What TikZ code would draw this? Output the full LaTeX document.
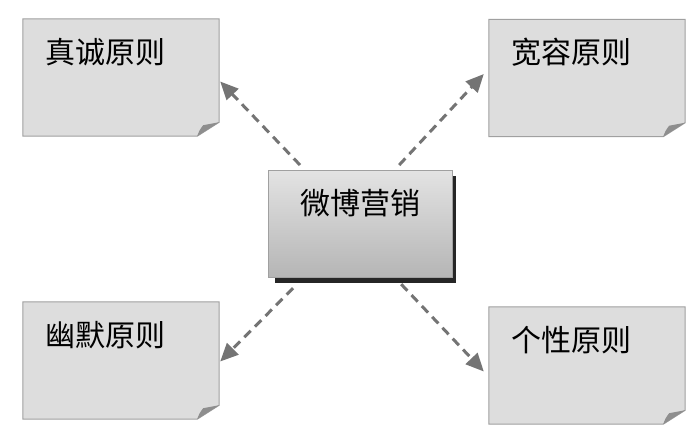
\documentclass[tikz,border=0pt]{standalone}
\usepackage{fontspec}
\newfontfamily\cjk{Noto Sans CJK SC}
\usetikzlibrary{arrows.meta}
\definecolor{notefill}{HTML}{DDDDDD}
\definecolor{noteline}{HTML}{A0A0A0}
\definecolor{arrowgray}{HTML}{747474}
\definecolor{foldgray}{HTML}{8E8E8E}
\tikzset{
  notebox/.style={rectangle, minimum width=196pt, minimum height=117pt, inner sep=0pt, draw=none},
  notetext/.style={anchor=north west, inner sep=0pt, font=\cjk\fontsize{30}{30}\selectfont, text=black},
  centerbox/.style={rectangle, minimum width=184pt, minimum height=107pt, inner sep=0pt,
     draw=noteline, line width=1.2pt, top color=gray!22, bottom color=gray!58,
     font=\cjk\fontsize{30}{30}\selectfont, text depth=0pt},
  dasharrow/.style={draw=arrowgray, line width=3pt, dash pattern=on 9pt off 6pt,
     -{Triangle[length=18pt,width=16pt,fill=arrowgray,color=arrowgray]}},
}
\newcommand{\notedraw}[1]{%
  \draw[draw=noteline, fill=notefill, line width=1pt]
    (#1.north west) -- (#1.north east) -- ([yshift=14pt]#1.south east)
    -- ([xshift=-22pt]#1.south east) -- (#1.south west) -- cycle;
  \fill[foldgray] ([xshift=-22pt]#1.south east) to[bend left=10] ([xshift=-16pt,yshift=11pt]#1.south east)
    -- ([yshift=14pt]#1.south east) -- cycle;
}
\begin{document}
\begin{tikzpicture}[x=1pt,y=-1pt]
\useasboundingbox[fill=white] (0,0) rectangle (692,441);
\node[notebox] (a) at (121,77.5) {};
\node[notebox] (b) at (587,78) {};
\node[notebox] (d) at (121,360.5) {};
\node[notebox] (e) at (587,365.5) {};
\notedraw{a}\notedraw{b}\notedraw{d}\notedraw{e}
\node[notetext] (at) at ([xshift=22pt,yshift=-19pt]a.north west) {真诚原则};
\node[notetext] (bt) at ([xshift=22pt,yshift=-19pt]b.north west) {宽容原则};
\node[notetext] (dt) at ([xshift=22pt,yshift=-19pt]d.north west) {幽默原则};
\node[notetext] (et) at ([xshift=22pt,yshift=-19pt]e.north west) {个性原则};
% shadow of center box
\fill[black!85] (275,176) rectangle (456,283);
\node[centerbox, anchor=north west] (c) at (268,170) {};
\node[anchor=north, inner sep=0pt, font=\cjk\fontsize{30}{30}\selectfont] (ct) at ([yshift=-19pt]c.north) {微博营销};
% connectors
\draw[dasharrow] ([xshift=32pt,yshift=5pt]c.north west) -- ([xshift=1pt,yshift=-4pt]a.east);
\draw[dasharrow] ([xshift=-54pt,yshift=5pt]c.north east) -- ([xshift=-5pt,yshift=4pt]b.west);
\draw[dasharrow] ([xshift=25pt,yshift=-10pt]c.south west) -- ([xshift=1pt,yshift=-1pt]d.east);
\draw[dasharrow] ([xshift=-52pt,yshift=-6pt]c.south east) -- ([xshift=-5pt,yshift=-6pt]e.west);
\end{tikzpicture}
\end{document}
